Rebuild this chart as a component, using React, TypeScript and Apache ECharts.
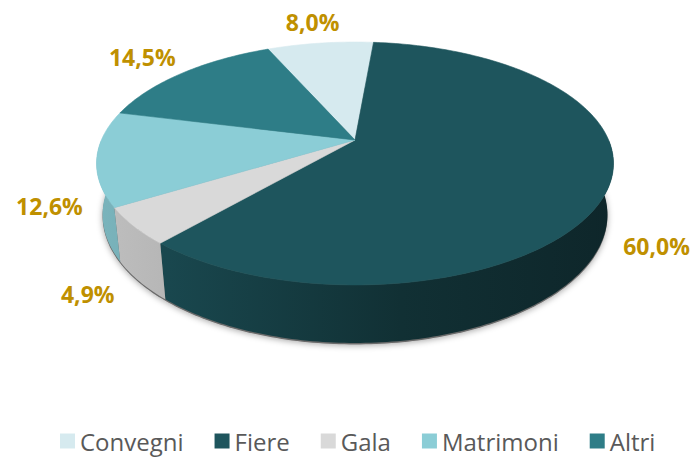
import React, { useEffect, useRef } from 'react';
import * as echarts from 'echarts';

// ---- data ----
const categories = ['Convegni', 'Fiere', 'Gala', 'Matrimoni', 'Altri'];
const values = [8.0, 60.0, 4.9, 12.6, 14.5];
const colors = ['#d6eaef', '#1e555d', '#d9d9d9', '#8bcdd6', '#2e7d87'];

// ---- 3D projection layout ----
const FIRST_ANGLE = -23.8; // degrees, clockwise from the far side
const CX = 355;
const CY = 140;
const F = 1164;
const D = 4.59;
const S = 0.461; // sin tilt
const C = 0.887; // cos tilt
const H = 0.229; // pie thickness

function proj(r: number, deg: number, y: number): number[] {
  const p = (deg * Math.PI) / 180;
  const x = r * Math.sin(p);
  const z = r * Math.cos(p);
  const yc = z * S + y * C;
  const zc = D + z * C - y * S;
  return [CX + (F * x) / zc, CY - (F * yc) / zc];
}

function arc(a: number, b: number, r: number, y: number): number[][] {
  const n = Math.max(2, Math.ceil(Math.abs(b - a) / 1));
  const pts: number[][] = [];
  for (let k = 0; k <= n; k++) pts.push(proj(r, a + ((b - a) * k) / n, y));
  return pts;
}

function shade(hex: string, k: number): string {
  const n = parseInt(hex.slice(1), 16);
  const r = Math.round(((n >> 16) & 255) * k);
  const g = Math.round(((n >> 8) & 255) * k);
  const b = Math.round((n & 255) * k);
  return `rgb(${r},${g},${b})`;
}

const total = values.reduce((s, v) => s + v, 0);
function sliceRange(i: number): number[] {
  let a = FIRST_ANGLE;
  for (let j = 0; j < i; j++) a += (values[j] / total) * 360;
  return [a, a + (values[i] / total) * 360];
}

const fmt = (v: number) => v.toFixed(1).replace('.', ',') + '%';

export default function App() {
  const ref = useRef<HTMLDivElement>(null);
  useEffect(() => {
    if (!ref.current) return;
    const chart = echarts.init(ref.current, undefined, { renderer: 'svg' });

    const series = categories.map((name, i) => ({
      type: 'custom',
      name,
      coordinateSystem: 'none',
      itemStyle: { color: colors[i] },
      data: [[values[i]]],
      renderItem: () => {
        const [a0, a1] = sliceRange(i);
        const children: any[] = [];
        const lo = Math.max(a0, 90);
        const hi = Math.min(a1, 270);
        if (hi > lo) {
          const top = arc(lo, hi, 1, 0);
          const bot = arc(hi, lo, 1, -H);
          children.push({
            type: 'polygon',
            z2: 1,
            shape: { points: top.concat(bot) },
            style: {
              fill: {
                type: 'linear',
                global: true,
                x: 96,
                y: 0,
                x2: 614,
                y2: 0,
                colorStops: [
                  { offset: 0, color: shade(colors[i], 0.88) },
                  { offset: 0.14, color: shade(colors[i], 0.84) },
                  { offset: 0.59, color: shade(colors[i], 0.56) },
                  { offset: 1, color: shade(colors[i], 0.45) },
                ],
              },
              stroke: null,
            },
          });
        }
        const face = [proj(0, 0, 0)].concat(arc(a0, a1, 1, 0));
        children.push({
          type: 'polygon',
          z2: 2,
          shape: { points: face },
          style: { fill: colors[i], stroke: colors[i], lineWidth: 0.6 },
        });
        const mid = (a0 + a1) / 2;
        const front = Math.cos((mid * Math.PI) / 180) < 0;
        const lp = front ? proj(1.2, mid, -H * 0.85) : proj(1.27, mid, 0);
        children.push({
          type: 'text',
          z2: 3,
          style: {
            text: fmt(values[i]),
            x: lp[0],
            y: lp[1],
            fill: '#bf9000',
            fontSize: 23,
            fontWeight: 'bold',
            fontFamily: '"Open Sans", sans-serif',
            align: 'center',
            verticalAlign: 'middle',
          },
        });
        return { type: 'group', children };
      },
    }));

    const shadowPts = arc(0, 360, 1, -H);

    chart.setOption({
      animation: false,
      backgroundColor: '#ffffff',
      graphic: [
        {
          type: 'polygon',
          y: 1.5,
          shape: { points: shadowPts },
          style: {
            fill: '#6a6a6a',
            shadowBlur: 6,
            shadowColor: 'rgba(0,0,0,0.35)',
            shadowOffsetY: 1,
          },
        },
      ],
      legend: {
        data: categories,
        top: 429,
        left: 60,
        padding: 0,
        icon: 'rect',
        itemWidth: 15,
        itemHeight: 15,
        itemGap: 31,
        textStyle: {
          fontSize: 24,
          lineHeight: 24,
          color: '#595959',
          fontFamily: '"Open Sans", sans-serif',
        },
      },
      series,
    } as any);

    return () => chart.dispose();
  }, []);

  return (
    <div
      ref={ref}
      style={{ position: 'fixed', left: 0, top: 0, width: 695, height: 457, background: '#fff' }}
    />
  );
}
